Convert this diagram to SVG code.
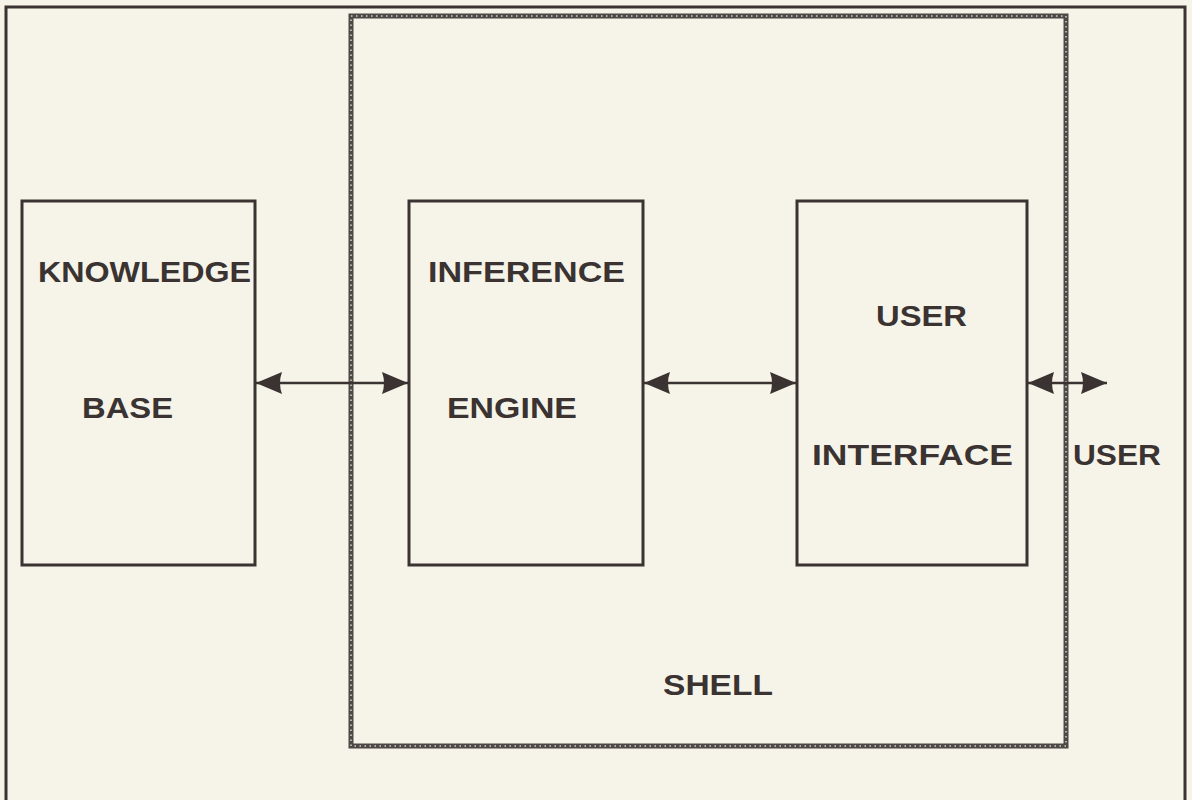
<svg xmlns="http://www.w3.org/2000/svg" width="1192" height="800" viewBox="0 0 1192 800">
<style>
.box{fill:none;stroke:#3a3331;stroke-width:3}
.lbl{font-family:"Liberation Sans",Arial,sans-serif;font-weight:bold;font-size:30px;fill:#3a3331}
.conn{stroke:#3a3331;stroke-width:2.5;fill:none}
</style>
<defs>
<marker id="ah" viewBox="0 0 26 22" refX="26" refY="11" markerWidth="26" markerHeight="22" markerUnits="userSpaceOnUse" orient="auto-start-reverse">
<path d="M0,0 Q4,11 0,22 L26,11 Z" fill="#3a3331"/>
</marker>
</defs>
<rect x="0" y="0" width="1192" height="800" fill="#f6f4e9"/>
<g id="frame">
<path d="M6,810 L6,7 L1185,7 L1185,810" class="box"/>
</g>
<g id="shell">
<rect x="351" y="16" width="715" height="730" fill="none" stroke="#4e4846" stroke-width="5"/>
<rect x="351" y="16" width="715" height="730" fill="none" stroke="#d6d1c6" stroke-width="1.5" stroke-dasharray="1.5 3.5"/>
<text class="lbl" x="663" y="695" textLength="110" lengthAdjust="spacingAndGlyphs">SHELL</text>
</g>
<g id="knowledge-base">
<rect class="box" x="22" y="201" width="233" height="364"/>
<text class="lbl" x="38" y="282" textLength="213" lengthAdjust="spacingAndGlyphs">KNOWLEDGE</text>
<text class="lbl" x="82" y="418" textLength="91" lengthAdjust="spacingAndGlyphs">BASE</text>
</g>
<g id="inference-engine">
<rect class="box" x="409" y="201" width="234" height="364"/>
<text class="lbl" x="428" y="282" textLength="197" lengthAdjust="spacingAndGlyphs">INFERENCE</text>
<text class="lbl" x="447" y="418" textLength="130" lengthAdjust="spacingAndGlyphs">ENGINE</text>
</g>
<g id="user-interface">
<rect class="box" x="797" y="201" width="230" height="364"/>
<text class="lbl" x="876" y="326" textLength="91" lengthAdjust="spacingAndGlyphs">USER</text>
<text class="lbl" x="812" y="465" textLength="201" lengthAdjust="spacingAndGlyphs">INTERFACE</text>
</g>
<g id="user">
<text class="lbl" x="1073" y="465" textLength="88" lengthAdjust="spacingAndGlyphs">USER</text>
</g>
<g id="connectors">
<line class="conn" x1="256" y1="383" x2="408" y2="383" marker-start="url(#ah)" marker-end="url(#ah)"/>
<line class="conn" x1="644" y1="383" x2="796" y2="383" marker-start="url(#ah)" marker-end="url(#ah)"/>
<line class="conn" x1="1028" y1="383" x2="1107" y2="383" marker-start="url(#ah)" marker-end="url(#ah)"/>
</g>
</svg>
